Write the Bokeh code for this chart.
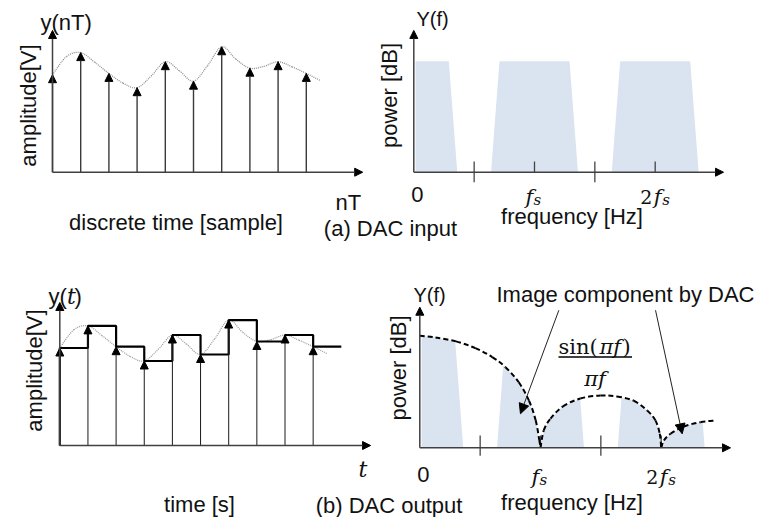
import numpy as np
from bokeh.plotting import figure
from bokeh.models import Range1d, Arrow, NormalHead, ColumnDataSource
from bokeh.core.properties import value
from bokeh.embed import file_html
from bokeh.resources import INLINE

# ---------------- data ----------------
sample_n = [0, 1, 2, 3, 4, 5, 6, 7, 8, 9]
sample_amp = [0.75, 0.92, 0.76, 0.65, 0.85, 0.70, 0.965, 0.80, 0.85, 0.76]

signal_t = [0, 0.5, 1, 1.5, 2, 2.5, 3, 3.5, 4, 4.5, 5, 5.5, 6, 6.5, 7, 7.5, 8, 8.5, 9, 9.5]
signal_amp = [0.75, 0.89, 0.92, 0.845, 0.76, 0.685, 0.65, 0.74, 0.85, 0.78,
              0.70, 0.82, 0.965, 0.87, 0.80, 0.815, 0.85, 0.81, 0.76, 0.705]

band_centers = [0, 1, 2]          # in units of fs
band_level = 1.0
band_half_bottom = 0.36
band_half_top = 0.29

lobe1_f = [0, 0.13, 0.30, 0.46, 0.60, 0.71, 0.82, 0.905, 0.96, 0.99, 1.0]
lobe1_p = [1.0, 0.985, 0.95, 0.89, 0.81, 0.72, 0.585, 0.42, 0.245, 0.07, 0.0]
lobe2_f = [1.0, 1.027, 1.083, 1.186, 1.33, 1.496, 1.634, 1.773, 1.884, 1.952, 1.988, 2.0]
lobe2_p = [0.0, 0.155, 0.26, 0.37, 0.44, 0.467, 0.458, 0.42, 0.333, 0.245, 0.125, 0.0]
lobe3_f = [2.0, 2.022, 2.077, 2.187, 2.325, 2.45]
lobe3_p = [0.0, 0.065, 0.125, 0.19, 0.229, 0.244]

half_ticks = [0.5, 1.5]
full_ticks = [1, 2]

callout_f0 = [1.152, 1.953]
callout_p0 = [1.228, 1.228]
callout_f1 = [0.834, 2.174]
callout_p1 = [0.304, 0.125]

# ---------------- layout ----------------
W, H = 759, 517
X0, Y0 = 0, H            # image coords of canvas left / bottom
TXT = "#111111"
AX = "#404040"
BAND = "#dae3f0"
SANS = "Liberation Sans"
SERIF = "DejaVu Serif"

p = figure(width=W, height=H, x_range=Range1d(X0, X0 + W), y_range=Range1d(Y0, 0),
           output_backend="svg", toolbar_location=None,
           min_border=0, min_border_left=0, min_border_right=0,
           min_border_top=0, min_border_bottom=0)
p.xaxis.visible = False
p.yaxis.visible = False
p.grid.visible = False
p.outline_line_color = None
p.background_fill_color = "white"

xr, yr = {}, {}
def panel(name, x0d, x0p, x1d, x1p, y0d, y0p, y1d, y1p):
    ax = (x1d - x0d) / (x1p - x0p)
    xs = x0d - ax * (x0p - X0)
    xr[name] = Range1d(xs, xs + ax * W)
    ay = (y1d - y0d) / ((Y0 - y1p) - (Y0 - y0p))
    ys = y0d - ay * (Y0 - y0p)
    yr[name] = Range1d(ys, ys + ay * H)

panel("A", 0, 52, 1, 80.2, 0, 171.7, 1, 41.7)
panel("B", 0, 59.3, 1, 87.45, 0, 445, 1, 315)
panel("C", 0, 413.3, 1, 534, 0, 171.7, 1, 60.7)
panel("D", 0, 419.3, 1, 540, 0, 447.3, 1, 335.3)
p.extra_x_ranges = xr
p.extra_y_ranges = yr

axis_ext = {"A": (11.0, 1.09), "B": (11.04, 1.1), "C": (2.566, 1.277), "D": (2.574, 1.255)}

def rn(name):
    return dict(x_range_name=name, y_range_name=name) if name else {}

def txt(x, y, s, size=22, align="left", angle=0, font=SANS, style="normal", name=None, xoff=0):
    p.text(x=[x], y=[y], text=[s], text_font=value(font), text_font_size=value(f"{size}px"),
           text_font_style=style, text_align=align, text_baseline="alphabetic",
           angle=angle, text_color=TXT, x_offset=xoff, **rn(name))

def head(size=8):
    return NormalHead(size=size, fill_color="black", line_color="black", line_width=1)

def axes(name):
    xe, ye = axis_ext[name]
    p.add_layout(Arrow(end=head(8), x_start=0, y_start=0, x_end=0, y_end=ye,
                       line_color=AX, line_width=1.5, **rn(name)))
    p.add_layout(Arrow(end=head(8), x_start=0, y_start=0, x_end=xe, y_end=0,
                       line_color=AX, line_width=1.5, **rn(name)))

def smooth(xs, ys, name, **kw):
    xs = np.asarray(xs, float); ys = np.asarray(ys, float)
    px = np.concatenate([[xs[0]], xs, [xs[-1]]])
    py = np.concatenate([[ys[0]], ys, [ys[-1]]])
    p.bezier(x0=px[1:-2], y0=py[1:-2], x1=px[2:-1], y1=py[2:-1],
             cx0=px[1:-2] + (px[2:-1] - px[:-3]) / 6, cy0=py[1:-2] + (py[2:-1] - py[:-3]) / 6,
             cx1=px[2:-1] - (px[3:] - px[1:-2]) / 6, cy1=py[2:-1] - (py[3:] - py[1:-2]) / 6,
             **kw, **rn(name))

def stems(name, color, width):
    src = ColumnDataSource(dict(x0=sample_n, y0=[0] * len(sample_n), x1=sample_n, y1=sample_amp))
    p.add_layout(Arrow(end=head(8), source=src, x_start="x0", y_start="y0", x_end="x1", y_end="y1",
                       line_color=color, line_width=width, **rn(name)))

# ---------------- panel A: discrete samples ----------------
smooth(signal_t, signal_amp, "A", line_color="#8a8a8a", line_width=1.2, line_dash="1 1")
stems("A", "#3a3a3a", 1.4)
axes("A")

# ---------------- panel B: zero-order hold ----------------
smooth(signal_t, signal_amp, "B", line_color="#9a9a9a", line_width=1.2, line_dash="1 1")
n = np.array(sample_n, float); a = np.array(sample_amp, float)
hold_x = np.concatenate([[0.0], np.repeat(n, 2)[1:], [n[-1] + 1]])
hold_y = np.concatenate([[0.0], np.repeat(a, 2)])
p.line(hold_x, hold_y, line_color="black", line_width=2.2, **rn("B"))
stems("B", "#1a1a1a", 1.0)
axes("B")

# ---------------- panels C / D: spectra ----------------
env_f = np.concatenate([lobe1_f, lobe2_f[1:], lobe3_f[1:]])
env_p = np.concatenate([lobe1_p, lobe2_p[1:], lobe3_p[1:]])
for name, clip in (("C", False), ("D", True)):
    for c in band_centers:
        lo = max(c - band_half_bottom, 0.015)
        hi = c + band_half_bottom
        f = np.linspace(lo, hi, 240)
        top = band_level * np.clip((band_half_bottom - np.abs(f - c)) /
                                   (band_half_bottom - band_half_top), 0, 1)
        if clip:
            top = np.minimum(top, np.interp(f, env_f, env_p))
        p.patch(np.concatenate([[lo], f, [hi]]), np.concatenate([[0], top, [0]]),
                fill_color=BAND, line_color=None, **rn(name))

for name, up, down in (("C", 0.096, 0.09), ("D", 0.11, 0.07)):
    p.segment(x0=half_ticks, y0=[-down] * 2, x1=half_ticks, y1=[up] * 2,
              line_color="#444444", line_width=1.3, **rn(name))
    p.segment(x0=full_ticks, y0=[0] * 2, x1=full_ticks, y1=[up] * 2,
              line_color="#444444", line_width=1.3, **rn(name))

for lf, lp in ((lobe1_f, lobe1_p), (lobe2_f, lobe2_p), (lobe3_f, lobe3_p)):
    smooth(lf, lp, "D", line_color="black", line_width=2, line_dash="5 3")

axes("C")
axes("D")

src = ColumnDataSource(dict(x0=callout_f0, y0=callout_p0, x1=callout_f1, y1=callout_p1))
p.add_layout(Arrow(end=head(10), source=src, x_start="x0", y_start="y0", x_end="x1", y_end="y1",
                   line_color="#222222", line_width=1, **rn("D")))

# ---------------- texts ----------------
# panel A
txt(40, 21.5, "y(nT)")
txt(27.5, 105, "amplitude[V]", align="center", angle=np.pi / 2)
txt(335, 202, "nT")
txt(175.5, 221.5, "discrete time [sample]", align="center")
txt(390, 228, "(a) DAC input", align="center")
# panel B
txt(48, 296, "y(")
txt(66.5, 296, "t", font=SERIF, style="italic")
txt(74, 296, ")")
txt(33.5, 370, "amplitude[V]", align="center", angle=np.pi / 2)
txt(358, 469, "t", font=SERIF, style="italic")
txt(199, 504, "time [s]", align="center")
txt(388.5, 505, "(b) DAC output", align="center")
# panel C / D
for name, yf, yb, yl, ylab in (("C", 18.5, 95, 388.5, 216), ("D", 294, 367.5, 397.5, 502)):
    x_y = 416 if name == "C" else 413
    txt(x_y, yf, "Y(f)", size=20)
    txt(yl, yb, "power [dB]", align="center", angle=np.pi / 2)
    txt(571.5, ylab, "frequency [Hz]", align="center")
for name, base in (("C", -0.2), ("D", -0.24)):
    txt(0, base, "0", align="center", name=name, xoff=3.5)
    txt(1, base - 0.02, "f", size=21, font=SERIF, style="italic", name=name, xoff=-9)
    txt(1, base - 0.05, "s", size=15, font=SERIF, style="italic", name=name, xoff=-1)
    txt(2, base - 0.02, "2", size=19, font=SERIF, name=name, xoff=-15)
    txt(2, base - 0.02, "f", size=21, font=SERIF, style="italic", name=name, xoff=-1.5)
    txt(2, base - 0.05, "s", size=15, font=SERIF, style="italic", name=name, xoff=7)

txt(754, 294, "Image component by DAC", align="right")
txt(558, 346, "sin(", size=21, font=SERIF)
txt(599, 346, "πf", size=21, font=SERIF, style="italic")
txt(622, 346, ")", size=21, font=SERIF)
p.segment(x0=[558], y0=[356.5], x1=[631.5], y1=[356.5], line_color="black", line_width=1.6)
txt(594.5, 378, "πf", size=21, font=SERIF, style="italic", align="center")

open("out.html", "w").write(file_html(p, INLINE))
